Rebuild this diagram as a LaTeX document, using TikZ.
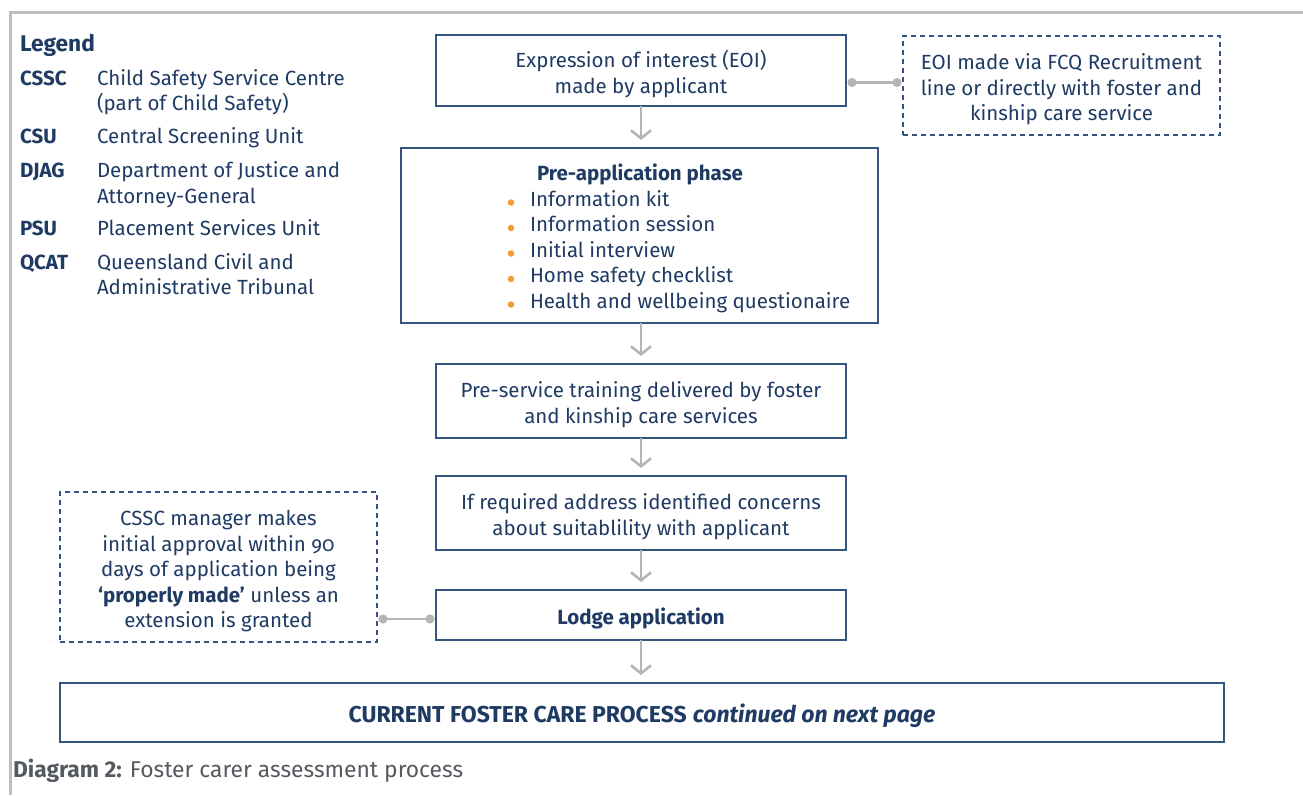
\documentclass[tikz,border=0pt]{standalone}
\usepackage{fontspec}
\setmainfont{Fira Sans}
\usetikzlibrary{arrows.meta}
\definecolor{navy}{HTML}{1F3B63}
\definecolor{boxline}{HTML}{34557F}
\definecolor{arrowgray}{HTML}{B5B5B5}
\definecolor{framegray}{HTML}{BEBEBE}
\definecolor{bulletorange}{HTML}{F39C34}
\definecolor{capgray}{HTML}{555A60}
\begin{document}
\begin{tikzpicture}[x=1pt,y=-1pt,
  every node/.style={inner sep=0pt, outer sep=0pt, text=navy, font=\fontsize{20.5}{25.5}\selectfont},
  box/.style={draw=boxline, line width=1.6pt, rectangle},
  dbox/.style={draw=boxline, line width=1.3pt, dash pattern=on 5pt off 4pt, rectangle},
  txt/.style={align=center},
  flow/.style={draw=arrowgray, line width=2.6pt, shorten >=8pt, -{Straight Barb[length=8pt,width=20pt]}},
  conn/.style={draw=arrowgray, line width=2.6pt, shorten >=1.5pt, shorten <=1.5pt, {Circle[length=9pt]}-{Circle[length=9pt]}},
  abbr/.style={anchor=mid west, font=\fontsize{20.5}{25.5}\selectfont\bfseries},
  desc/.style={anchor=mid west},
  item/.style={anchor=mid west},
  dot/.style={circle, fill=bulletorange, minimum size=6.5pt}
]
\useasboundingbox (0,0) rectangle (1303,795);
% frame
\draw[framegray, line width=3pt] (1303,12) -- (10,12) -- (10,795);

% legend
\node[anchor=mid west, font=\fontsize{22.7}{25}\selectfont\bfseries] (leg) at (20,49) {Legend};
\node[abbr] (a1) at (20,83) {CSSC};
\node[desc] (d1a) at (97,83) {Child Safety Service Centre};
\node[desc] (d1b) at (97,108) {(part of Child Safety)};
\node[abbr] (a2) at (20,141) {CSU};
\node[desc] (d2) at (97,141) {Central Screening Unit};
\node[abbr] (a3) at (20,175) {DJAG};
\node[desc] (d3a) at (97,175) {Department of Justice and};
\node[desc] (d3b) at (97,201) {Attorney-General};
\node[abbr] (a4) at (20,233) {PSU};
\node[desc] (d4) at (97,233) {Placement Services Unit};
\node[abbr] (a5) at (20,267) {QCAT};
\node[desc] (d5a) at (97,267) {Queensland Civil and};
\node[desc] (d5b) at (97,292) {Administrative Tribunal};

% flow boxes
\node[box, minimum width=410pt, minimum height=71pt] (eoi) at (641,70.5) {};
\node[txt] (eoit) at ([yshift=-3.5pt]eoi.center) {Expression of interest (EOI)\\made by applicant};
\node[dbox, minimum width=317pt, minimum height=99pt] (eoiv) at (1061.5,85.5) {};
\node[txt] (eoivt) at ([yshift=-4pt]eoiv.center) {EOI made via FCQ Recruitment\\line or directly with foster and\\kinship care service};
\node[box, minimum width=477pt, minimum height=175pt] (pre) at (639.5,235.5) {};
\node[anchor=mid, font=\fontsize{20.5}{25.5}\selectfont\bfseries] (pret) at (640,178) {Pre-application phase};
\foreach \t [count=\i] in {Information kit, Information session, Initial interview, Home safety checklist, Health and wellbeing questionaire}{
  \pgfmathsetmacro{\yy}{178+25.5*\i}
  \node[dot] (b\i) at (511,\yy-1) {};
  \node[item] (i\i) at (530,\yy) {\t};
}
\node[box, minimum width=410pt, minimum height=74pt] (train) at (641,401) {};
\node[txt] (traint) at ([yshift=-3.5pt]train.center) {Pre-service training delivered by foster\\and kinship care services};
\node[box, minimum width=410pt, minimum height=74pt] (conc) at (641,513) {};
\node[txt] (conct) at ([yshift=-3.5pt]conc.center) {If required address identified concerns\\about suitablility with applicant};
\node[box, minimum width=410pt, minimum height=50pt] (lodge) at (641,615) {};
\node[txt, font=\fontsize{20.5}{25.5}\selectfont\bfseries] (lodget) at ([yshift=-3.5pt]lodge.center) {Lodge application};
\node[dbox, minimum width=317pt, minimum height=150pt] (cssc) at (218.5,567) {};
\node[txt] (cssct) at ([yshift=-4pt]cssc.center)
  {CSSC manager makes\\initial approval within {\addfontfeature{Numbers=OldStyle}90}\\days of application being\\\textbf{‘properly made’} unless an\\extension is granted};
\node[box, minimum width=1164pt, minimum height=59pt] (cont) at (642,712.5) {};
\node[txt, font=\fontsize{23}{27}\selectfont] (contt) at ([yshift=-3.5pt]cont.center)
  {\textbf{CURRENT FOSTER CARE PROCESS} \textbf{\itshape continued on next page}};

% caption
\node[anchor=mid west, text=capgray, font=\fontsize{22.8}{27}\selectfont] (cap) at (13,775) {\textbf{Diagram 2:} Foster carer assessment process};

% arrows
\draw[flow] (eoi.south) -- (eoi.south |- pre.north);
\draw[flow] (eoi.south |- pre.south) -- (eoi.south |- train.north);
\draw[flow] (train.south) -- (conc.north);
\draw[flow] (conc.south) -- (lodge.north);
\draw[flow] (lodge.south) -- (lodge.south |- cont.north);

% side connectors
\draw[conn] ([yshift=-12pt]eoi.east) -- ([yshift=-12pt]eoi.east -| eoiv.west);
\draw[conn] ([yshift=-4pt]lodge.west) -- ([yshift=-4pt]lodge.west -| cssc.east);
\end{tikzpicture}
\end{document}
